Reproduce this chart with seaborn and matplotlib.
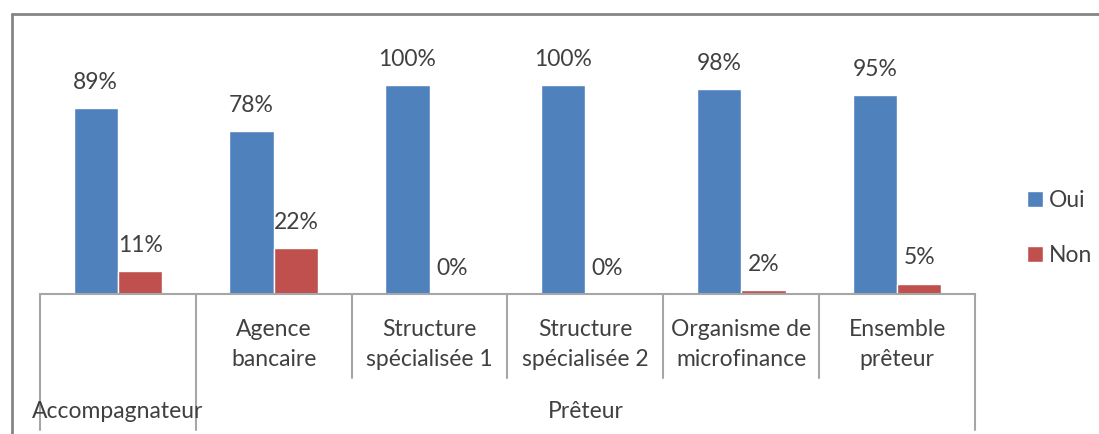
import pandas as pd
import matplotlib
matplotlib.use('Agg')
import matplotlib.pyplot as plt
import matplotlib.transforms as mtransforms
from matplotlib.lines import Line2D
import seaborn as sns

# Données
categories = ['Accompagnateur', 'Agence\nbancaire', 'Structure\nspécialisée 1',
              'Structure\nspécialisée 2', 'Organisme de\nmicrofinance', 'Ensemble\nprêteur']
oui = [89, 78, 100, 100, 98, 95]
non = [11, 22, 0, 0, 2, 5]
groupes = ['Accompagnateur', 'Prêteur']

df = pd.DataFrame({
    'categorie': categories * 2,
    'valeur': oui + non,
    'reponse': ['Oui'] * len(oui) + ['Non'] * len(non),
})

sns.set_style('white')
plt.rcParams['font.family'] = ['Lato', 'DejaVu Sans']
gris = '#404040'
taille = 16.5

fig = plt.figure(figsize=(10.99, 4.34), dpi=100)
ax = fig.add_axes([40 / 1099, 140 / 434, 935 / 1099, 251 / 434])

sns.barplot(data=df, x='categorie', y='valeur', hue='reponse',
            palette=['#4F81BD', '#C0504D'], width=0.57, saturation=1,
            ax=ax)

for cont in ax.containers:
    ax.bar_label(cont, fmt='%g%%', padding=11, fontsize=taille, color=gris)

ax.set_xlim(-0.5, 5.5)
ax.set_ylim(0, 120)
ax.set_yticks([])
ax.set_xticks([])
ax.set_xlabel('')
ax.set_ylabel('')
for s in ['top', 'right', 'left']:
    ax.spines[s].set_visible(False)
ax.spines['bottom'].set_color('#A6A6A6')
ax.spines['bottom'].set_linewidth(1.5)

trans = mtransforms.blended_transform_factory(ax.transData, ax.transAxes)

# séparateurs de l'axe à deux niveaux
for b in [-0.5, 0.5, 1.5, 2.5, 3.5, 4.5, 5.5]:
    bas = -0.542 if b in (-0.5, 0.5, 5.5) else -0.335
    ax.plot([b, b], [0, bas], transform=trans, color='#A6A6A6', lw=1.5,
            clip_on=False)

# étiquettes du premier niveau
for i, c in enumerate(categories):
    if i == 0:
        continue
    ax.text(i, -0.1, c, transform=trans, ha='center', va='top',
            fontsize=taille, color=gris, linespacing=1.55)

# étiquettes du second niveau
ax.text(0, -0.47, groupes[0], transform=trans, ha='center', va='center',
        fontsize=taille, color=gris)
ax.text(3, -0.47, groupes[1], transform=trans, ha='center', va='center',
        fontsize=taille, color=gris)

sns.move_legend(ax, 'center left', bbox_to_anchor=(1006 / 1099, 206 / 434),
                bbox_transform=fig.transFigure, title=None, frameon=False,
                fontsize=taille, handlelength=0.7, handleheight=0.7,
                handletextpad=0.25, labelspacing=1.5)
for t in ax.get_legend().get_texts():
    t.set_color(gris)

# cadre du graphique
fig.add_artist(Line2D([12 / 1099, 1], [1 - 14 / 434, 1 - 14 / 434],
                      transform=fig.transFigure, color='#858585', lw=2))
fig.add_artist(Line2D([12 / 1099, 12 / 1099], [0, 1 - 14 / 434],
                      transform=fig.transFigure, color='#858585', lw=2))

fig.savefig('out.png', dpi=100)
